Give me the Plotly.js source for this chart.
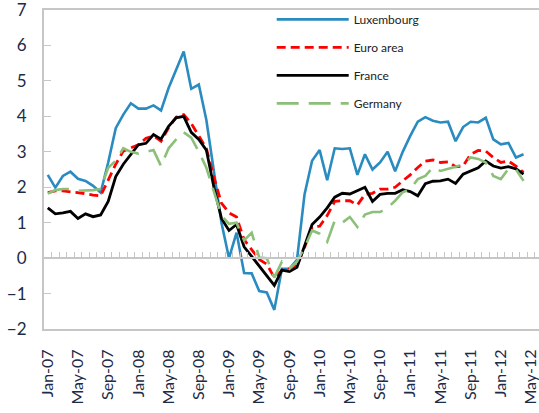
<!DOCTYPE html>
<html><head><meta charset="utf-8">
<script src="https://cdn.plot.ly/plotly-3.0.1.min.js"></script>
<style>html,body{margin:0;padding:0;background:#fff}#chart{width:539px;height:413px}</style>
</head><body><div id="chart"></div>
<script>
const months = ['Jan-07','Feb-07','Mar-07','Apr-07','May-07','Jun-07','Jul-07','Aug-07','Sep-07','Oct-07','Nov-07','Dec-07',
'Jan-08','Feb-08','Mar-08','Apr-08','May-08','Jun-08','Jul-08','Aug-08','Sep-08','Oct-08','Nov-08','Dec-08',
'Jan-09','Feb-09','Mar-09','Apr-09','May-09','Jun-09','Jul-09','Aug-09','Sep-09','Oct-09','Nov-09','Dec-09',
'Jan-10','Feb-10','Mar-10','Apr-10','May-10','Jun-10','Jul-10','Aug-10','Sep-10','Oct-10','Nov-10','Dec-10',
'Jan-11','Feb-11','Mar-11','Apr-11','May-11','Jun-11','Jul-11','Aug-11','Sep-11','Oct-11','Nov-11','Dec-11',
'Jan-12','Feb-12','Mar-12','Apr-12','May-12'];
const tickLabels = ['Jan-07','May-07','Sep-07','Jan-08','May-08','Sep-08','Jan-09','May-09','Sep-09','Jan-10','May-10','Sep-10','Jan-11','May-11','Sep-11','Jan-12','May-12'];
const yTicks = [-2,-1,0,1,2,3,4,5,6,7];

const luxembourg = [2.35,1.99,2.32,2.44,2.24,2.18,2.04,1.85,2.7,3.67,4.05,4.37,4.22,4.22,4.31,4.17,4.8,5.3,5.83,4.78,4.9,3.9,2.4,1.0,0.0,0.72,-0.42,-0.43,-0.93,-0.97,-1.46,-0.3,-0.3,-0.05,1.8,2.75,3.05,2.2,3.1,3.08,3.1,2.35,2.93,2.5,2.7,3.0,2.45,3.0,3.45,3.85,3.98,3.88,3.83,3.85,3.3,3.7,3.85,3.83,3.96,3.35,3.21,3.25,2.84,2.93];
const euroArea = [1.85,1.9,1.9,1.88,1.85,1.82,1.78,1.76,2.2,2.65,3.02,3.1,3.2,3.38,3.45,3.3,3.68,3.98,4.05,3.8,3.45,3.1,2.28,1.55,1.28,1.16,0.52,0.23,-0.04,-0.17,-0.55,-0.34,-0.3,-0.2,0.3,0.88,0.9,1.2,1.6,1.62,1.62,1.5,1.8,1.83,1.95,1.95,2.0,2.18,2.35,2.56,2.74,2.77,2.7,2.72,2.58,2.6,2.93,3.04,3.02,2.84,2.7,2.74,2.6,2.42];
const france = [1.42,1.25,1.28,1.32,1.12,1.25,1.17,1.22,1.6,2.3,2.65,2.93,3.2,3.24,3.49,3.36,3.72,3.96,4.0,3.55,3.35,3.05,2.0,1.12,0.78,0.95,0.32,0.05,-0.22,-0.5,-0.77,-0.34,-0.38,-0.26,0.35,0.95,1.16,1.42,1.72,1.83,1.81,1.9,2.0,1.6,1.8,1.83,1.83,1.93,1.88,1.76,2.1,2.17,2.18,2.23,2.11,2.37,2.45,2.55,2.74,2.6,2.54,2.58,2.52,2.37];
const germany = [1.82,1.92,1.95,1.95,1.9,1.9,1.92,1.95,2.55,2.75,3.1,3.0,2.95,3.0,3.05,2.6,3.1,3.35,3.55,3.4,3.0,2.55,1.9,1.2,0.97,1.0,0.5,0.72,0.02,0.0,-0.55,-0.1,-0.3,-0.1,0.3,0.78,0.69,0.46,1.06,1.0,1.16,0.88,1.23,1.3,1.3,1.42,1.62,1.86,1.95,2.23,2.32,2.56,2.46,2.51,2.58,2.65,2.84,2.8,2.7,2.32,2.23,2.52,2.5,2.18];

const seriesNames = ['Luxembourg','Euro area','France','Germany'];
const font = 'Lato, "Open Sans", sans-serif';
const axisGray = '#c6c6c6';
const labelColor = '#1c2b48';

function series(name, vals, color, dash, width) {
  return {
    type: 'scatter', mode: 'lines', name: name,
    x: months.slice(0, vals.length), y: vals,
    line: {color: color, width: width, dash: dash},
    hoverinfo: 'skip', legendgroup: name
  };
}
const traces = [
  series(seriesNames[0], luxembourg, '#2a8bc0', 'solid', 2.6),
  series(seriesNames[1], euroArea, '#ff0000', '9px,5px', 2.8),
  series(seriesNames[2], france, '#000000', 'solid', 2.8),
  series(seriesNames[3], germany, '#8cc07a', '22px,10px', 2.6),
  {type:'scatter', mode:'lines', x:[0], y:[null], xaxis:'x2', showlegend:false, hoverinfo:'skip'}
];
const nCat = months.length;
const boundaries = [];
for (let i = 0; i < nCat; i++) boundaries.push(i + 0.5);

const layout = {
  width: 539, height: 413,
  margin: {l: 44, r: 0, t: 10, b: 84, pad: 0},
  paper_bgcolor: '#ffffff', plot_bgcolor: '#ffffff',
  showlegend: true,
  legend: {
    x: 0.46, xanchor: 'left', y: 1.016, yanchor: 'top',
    bgcolor: 'rgba(0,0,0,0)', borderwidth: 0,
    font: {family: font, size: 12, color: '#222222'},
    itemwidth: 72, tracegroupgap: 9
  },
  xaxis: {
    type: 'category', categoryorder: 'array', categoryarray: months,
    range: [-0.5, 65.05],
    tickmode: 'array', tickvals: tickLabels, ticktext: tickLabels,
    tickangle: -90, ticks: '', ticklabelstandoff: 12,
    tickfont: {family: font, size: 16, color: labelColor},
    ticklabeloverflow: 'allow',
    showline: true, linecolor: axisGray, linewidth: 2, mirror: true,
    showgrid: false, zeroline: false, fixedrange: true
  },
  xaxis2: {
    overlaying: 'x', anchor: 'free', position: 2/9, side: 'bottom',
    range: [-0.5, 65.05], type: 'linear',
    tickmode: 'array', tickvals: boundaries,
    ticks: 'inside', ticklen: 5, tickwidth: 1, tickcolor: axisGray,
    showticklabels: false, showline: true, linecolor: axisGray, linewidth: 2,
    showgrid: false, zeroline: false, fixedrange: true
  },
  yaxis: {
    range: [-2, 7.003], tickmode: 'array', tickvals: yTicks,
    ticks: 'inside', ticklen: 7, tickwidth: 1, tickcolor: axisGray,
    ticklabelstandoff: 12, ticklabeloverflow: 'allow',
    tickfont: {family: font, size: 17, color: labelColor},
    showline: true, linecolor: axisGray, linewidth: 2,
    showgrid: false, zeroline: false, fixedrange: true
  }
};
Plotly.newPlot('chart', traces, layout, {displayModeBar: false, staticPlot: true});
</script>
</body></html>
